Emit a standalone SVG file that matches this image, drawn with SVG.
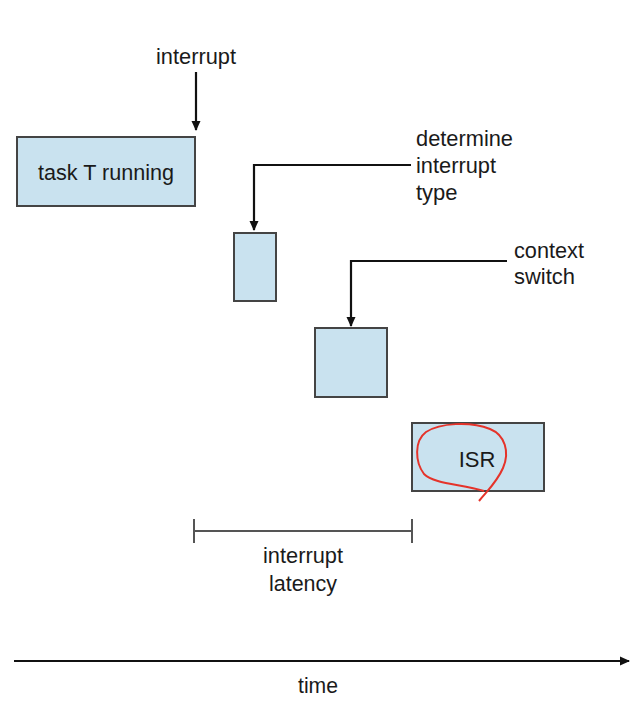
<svg xmlns="http://www.w3.org/2000/svg" width="636" height="714" viewBox="0 0 636 714">
<style>
.box{fill:#c9e2ef;stroke:#444;stroke-width:2}
.ln{fill:none;stroke:#111;stroke-width:2.2}
.t{font-family:"Liberation Sans",Arial,sans-serif;font-size:22px;fill:#1a1a1a}
.c{text-anchor:middle}
</style>
<defs>
<marker id="ah" markerWidth="12" markerHeight="12" refX="9" refY="6" orient="auto" markerUnits="userSpaceOnUse">
<path d="M0,1.5 L10,6 L0,10.5 Z" fill="#111"/>
</marker>
</defs>
<rect width="636" height="714" fill="#fff"/>
<g id="connectors">
<line class="ln" x1="196" y1="72" x2="196" y2="130" marker-end="url(#ah)"/>
<polyline class="ln" points="411,165 254,165 254,230" marker-end="url(#ah)"/>
<polyline class="ln" points="507,261 351,261 351,326" marker-end="url(#ah)"/>
<line class="ln" x1="14" y1="661" x2="629" y2="661" marker-end="url(#ah)"/>
</g>
<g id="task">
<rect class="box" x="17" y="137" width="178" height="69"/>
<text class="t c" x="106" y="180" textLength="136" lengthAdjust="spacingAndGlyphs">task T running</text>
</g>
<g id="interrupt-label">
<text class="t c" x="196" y="64" textLength="80" lengthAdjust="spacingAndGlyphs">interrupt</text>
</g>
<g id="determine">
<rect class="box" x="234" y="233" width="42" height="68"/>
<text class="t" x="416" y="146" textLength="97" lengthAdjust="spacingAndGlyphs">determine</text>
<text class="t" x="416" y="173" textLength="80" lengthAdjust="spacingAndGlyphs">interrupt</text>
<text class="t" x="416" y="200">type</text>
</g>
<g id="context">
<rect class="box" x="315" y="328" width="72" height="69"/>
<text class="t" x="514" y="258" textLength="70" lengthAdjust="spacingAndGlyphs">context</text>
<text class="t" x="514" y="284" textLength="61" lengthAdjust="spacingAndGlyphs">switch</text>
</g>
<g id="isr">
<rect class="box" x="412" y="423" width="132" height="68"/>
<text class="t c" x="477" y="467">ISR</text>
<path d="M479,501 C488,490 497,482 503,468 C510,452 505,435 490,429 C470,421 440,423 426,432 C414,441 415,462 424,474 C434,484 460,484 484,491" fill="none" stroke="#e5332a" stroke-width="2"/>
</g>
<g id="latency">
<path class="ln" d="M194,531 H412 M194,519 V543 M412,519 V543" style="stroke:#555;stroke-width:2"/>
<text class="t c" x="303" y="563" textLength="80" lengthAdjust="spacingAndGlyphs">interrupt</text>
<text class="t c" x="303" y="591" textLength="68" lengthAdjust="spacingAndGlyphs">latency</text>
</g>
<g id="time">
<text class="t c" x="318" y="693" textLength="40" lengthAdjust="spacingAndGlyphs">time</text>
</g>
</svg>
